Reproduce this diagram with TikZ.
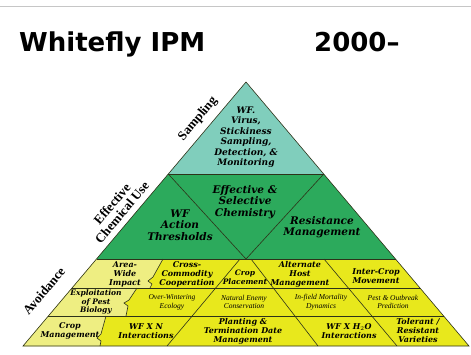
\documentclass[tikz,border=0pt]{standalone}
\usepackage{fontspec}
\setmainfont{DejaVu Serif}
\newfontfamily\headfont[Ligatures=TeX]{DejaVu Sans}
\newfontfamily\sidefont{Liberation Serif}
\newfontfamily\notefont{Liberation Serif}
\usetikzlibrary{positioning}

\definecolor{tealfill}{RGB}{128,206,188}
\definecolor{greenfill}{RGB}{44,170,92}
\definecolor{yellowfill}{RGB}{232,232,28}
\definecolor{palefill}{RGB}{238,238,130}
\definecolor{edgecol}{RGB}{45,50,25}

\begin{document}
\begin{tikzpicture}[x=1pt,y=-1pt,
  divider/.style={draw=edgecol,line width=.6pt},
  tealtext/.style={align=center,inner sep=0pt,font=\fontsize{9}{10.5}\selectfont\bfseries\itshape},
  greentext/.style={align=center,inner sep=0pt,font=\fontsize{10.5}{11.5}\selectfont\bfseries\itshape},
  celltext/.style={align=center,inner sep=0pt,font=\fontsize{8}{9}\selectfont\bfseries\itshape},
  notetext/.style={align=center,inner sep=0pt,font=\notefont\fontsize{7.5}{8.8}\selectfont\itshape},
  sidetext/.style={align=center,inner sep=0pt,rotate=50,font=\sidefont\fontsize{13}{13}\selectfont\bfseries}]
  \useasboundingbox (0,0) rectangle (471,354);
  \draw[gray!45,line width=1pt] (0,6) -- (471,6);

  % title
  \node[anchor=base west,inner sep=0pt,font=\headfont\fontsize{26}{30}\selectfont\bfseries] (title) at (19,51) {Whitefly IPM};
  \node[anchor=base west,inner sep=0pt,font=\headfont\fontsize{26}{30}\selectfont\bfseries] (year) at (314,51) {2000--};

  % bands
  \fill[tealfill] (246,82) -- (323.7,174) -- (168.3,174) -- cycle;
  \fill[greenfill] (168.3,174) -- (323.7,174) -- (395.5,259) -- (96.5,259) -- cycle;
  \fill[yellowfill] (96.5,259) -- (395.5,259) -- (469,346) -- (23,346) -- cycle;
  \fill[palefill] (96.5,259) -- (163,259) -- (153,277) -- (148,281) -- (152,284) -- (150,288) -- (72,288) -- cycle;
  \fill[palefill] (72,288) -- (137,288) -- (129,300) -- (124,303) -- (128,306) -- (126,316) -- (48.3,316) -- cycle;
  \fill[palefill] (48.3,316) -- (106,316) -- (101,334) -- (97,338) -- (101,341) -- (100,346) -- (23,346) -- cycle;

  % dividing lines
  \draw[divider] (168.3,174) -- (323.7,174);
  \draw[divider] (168.3,174) -- (246,259) -- (323.7,174);
  \draw[divider] (96.5,259) -- (395.5,259);
  \draw[divider] (72,288) -- (420,288);
  \draw[divider] (48.3,316) -- (443.7,316);
  \draw[divider] (163,259) -- (153,277) -- (148,281) -- (152,284) -- (150,288);
  \draw[divider] (137,288) -- (129,300) -- (124,303) -- (128,306) -- (126,316);
  \draw[divider] (106,316) -- (101,334) -- (97,338) -- (101,341) -- (100,346);
  \draw[divider] (240,259) -- (167,346);
  \draw[divider] (251,259) -- (318,346);
  \draw[divider] (324,259) -- (397,346);
  \draw[divider] (246,82) -- (469,346) -- (23,346) -- cycle;

  % top and middle
  \node[tealtext] (monitor) at (246,137) {WF.\\Virus,\\Stickiness\\Sampling,\\Detection, \&\\Monitoring};
  \node[greentext] (chem) at (245,202) {Effective \&\\Selective\\Chemistry};
  \node[greentext] (thresh) at (180,225) {WF\\Action\\Thresholds};
  \node[greentext] (resist) at (322,227) {Resistance\\Management};

  % avoidance rows
  \node[celltext] (area) at (125,274) {Area-\\Wide\\Impact};
  \node[celltext] (cross) at (187,274) {Cross-\\Commodity\\Cooperation};
  \node[celltext,font=\fontsize{7.5}{9}\selectfont\bfseries\itshape] (place) at (245,277) {Crop\\Placement};
  \node[celltext] (host) at (300,274) {Alternate\\Host\\Management};
  \node[celltext] (inter) at (376,276) {Inter-Crop\\Movement};

  \node[celltext,font=\fontsize{7.5}{8.8}\selectfont\bfseries\itshape] (exploit) at (96,302) {Exploitation\\of Pest\\Biology};
  \node[notetext] (winter) at (172,302) {Over-Wintering\\Ecology};
  \node[notetext] (enemy) at (244,302) {Natural Enemy\\Conservation};
  \node[notetext] (mort) at (321,302) {In-field Mortality\\Dynamics};
  \node[notetext] (pest) at (393,302) {Pest \& Outbreak\\Prediction};

  \node[celltext] (cropman) at (70,331) {Crop\\Management};
  \node[celltext] (wfn) at (146,331) {WF X N\\Interactions};
  \node[celltext] (plant) at (243,331) {Planting \&\\Termination Date\\Management};
  \node[celltext] (wfh) at (349,331) {WF X H$_2$O\\Interactions};
  \node[celltext] (toler) at (418,331) {Tolerant /\\Resistant\\Varieties};

  % side labels
  \node[sidetext] (samp) at (198,119) {Sampling};
  \node[sidetext] (chemuse) at (117,208) {Effective\\Chemical Use};
  \node[sidetext] (avoid) at (44,291) {Avoidance};
\end{tikzpicture}
\end{document}
